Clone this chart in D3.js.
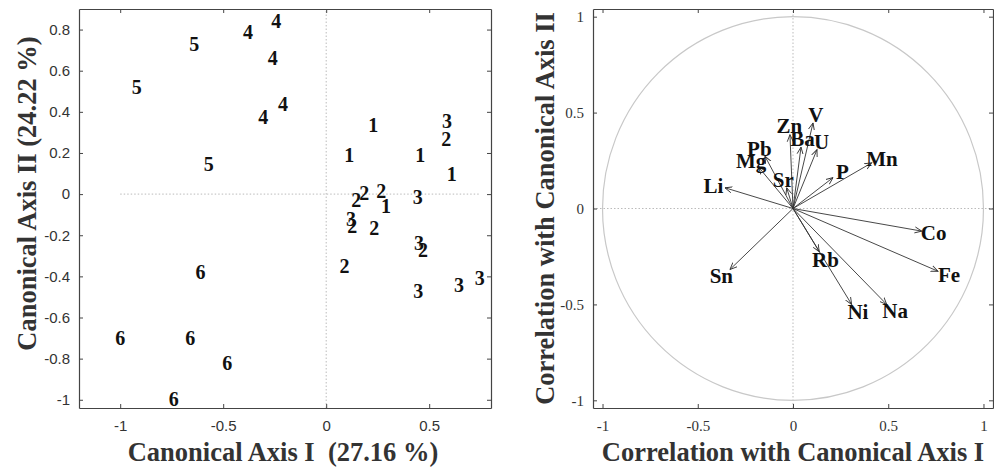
<!DOCTYPE html>
<html>
<head>
<meta charset="utf-8">
<script src="https://cdn.jsdelivr.net/npm/d3@7"></script>
<style>
  body { margin: 0; background: #fff; }
  svg { display: block; }
</style>
</head>
<body>
<div id="chart"></div>
<script>
// canonical scores (left panel)
var scoreX = [0.228, 0.112, 0.456, 0.61, 0.29,
  0.583, 0.185, 0.146, 0.267, 0.127, 0.233, 0.47, 0.089,
  0.587, 0.445, 0.12, 0.45, 0.447, 0.645, 0.745,
  -0.38, -0.243, -0.26, -0.21, -0.305,
  -0.64, -0.92, -0.57,
  -0.61, -1.0, -0.66, -0.48, -0.74];
var scoreY = [0.338, 0.19, 0.19, 0.097, -0.058,
  0.27, 0.005, -0.03, 0.015, -0.155, -0.165, -0.27, -0.348,
  0.357, -0.015, -0.12, -0.237, -0.47, -0.44, -0.41,
  0.79, 0.84, 0.66, 0.44, 0.377,
  0.73, 0.52, 0.145,
  -0.38, -0.70, -0.70, -0.82, -0.995];
var scoreGroup = ["1", "1", "1", "1", "1",
  "2", "2", "2", "2", "2", "2", "2", "2",
  "3", "3", "3", "3", "3", "3", "3",
  "4", "4", "4", "4", "4",
  "5", "5", "5",
  "6", "6", "6", "6", "6"];

// correlations with canonical axes (right panel)
var varNames = ["Li", "Sn", "Co", "Fe", "Ni", "Na", "Rb", "Mn", "P", "U", "Ba", "V", "Zn", "Pb", "Mg", "Sr"];
var varX = [-0.357, -0.331, 0.676, 0.761, 0.308, 0.492, 0.138, 0.413, 0.21, 0.126, 0.042, 0.105, -0.016, -0.147, -0.18, -0.033];
var varY = [0.108, -0.318, -0.118, -0.327, -0.5, -0.5, -0.225, 0.238, 0.161, 0.307, 0.32, 0.446, 0.385, 0.272, 0.215, 0.108];

var leftTicksX = [-1, -0.5, 0, 0.5];
var leftTicksY = [-1, -0.8, -0.6, -0.4, -0.2, 0, 0.2, 0.4, 0.6, 0.8];
var rightTicks = [-1, -0.5, 0, 0.5, 1];

var W = 994, H = 467;
var serif = "'Liberation Serif', 'Times New Roman', serif";
var sans = "'Liberation Sans', Arial, sans-serif";
var axisColor = "#444";

var svg = d3.select("#chart").append("svg")
  .attr("width", W).attr("height", H);

// draw a MATLAB-like boxed axis with inward ticks
function boxAxes(g, x, y, ticksX, ticksY, font, fmt) {
  var x0 = x.range()[0], x1 = x.range()[1];
  var y0 = y.range()[0], y1 = y.range()[1];
  var axB = d3.axisBottom(x).tickValues(ticksX).tickSizeInner(-4).tickSizeOuter(0).tickPadding(12).tickFormat(fmt);
  var axT = d3.axisTop(x).tickValues(ticksX).tickSizeInner(-4).tickSizeOuter(0).tickFormat("");
  var axL = d3.axisLeft(y).tickValues(ticksY).tickSizeInner(-4).tickSizeOuter(0).tickPadding(9).tickFormat(fmt);
  var axR = d3.axisRight(y).tickValues(ticksY).tickSizeInner(-4).tickSizeOuter(0).tickFormat("");
  var parts = [
    g.append("g").attr("transform", "translate(0," + y0 + ")").call(axB),
    g.append("g").attr("transform", "translate(0," + y1 + ")").call(axT),
    g.append("g").attr("transform", "translate(" + x0 + ",0)").call(axL),
    g.append("g").attr("transform", "translate(" + x1 + ",0)").call(axR)
  ];
  parts.forEach(function (p) {
    p.select(".domain").attr("stroke", axisColor).attr("stroke-width", 1.2);
    p.selectAll(".tick line").attr("stroke", axisColor);
    p.selectAll(".tick text").attr("fill", "#333").style("font-family", font).style("font-size", "15px");
  });
}

function fmtTick(d) { return d === 0 ? "0" : String(d); }

// ---------- left panel ----------
var xL = d3.scaleLinear().domain([-1.2, 0.8]).range([79, 491]);
var yL = d3.scaleLinear().domain([-1.04, 0.9]).range([408, 9]);
var gL = svg.append("g");

gL.append("line")
  .attr("x1", xL(d3.min(scoreX))).attr("x2", xL(d3.max(scoreX)))
  .attr("y1", yL(0)).attr("y2", yL(0))
  .attr("stroke", "#bbb").attr("stroke-dasharray", "1.5,2");
gL.append("line")
  .attr("x1", xL(0)).attr("x2", xL(0))
  .attr("y1", yL.range()[0]).attr("y2", yL.range()[1])
  .attr("stroke", "#bbb").attr("stroke-dasharray", "1.5,2");

boxAxes(gL, xL, yL, leftTicksX, leftTicksY, sans, fmtTick);

gL.selectAll(".score")
  .data(scoreGroup)
  .enter().append("text")
  .attr("class", "score")
  .attr("x", function (d, i) { return xL(scoreX[i]); })
  .attr("y", function (d, i) { return yL(scoreY[i]); })
  .attr("dy", "0.35em")
  .attr("text-anchor", "middle")
  .style("font-family", serif).style("font-weight", "bold").style("font-size", "20px")
  .attr("fill", "#111")
  .text(function (d) { return d; });

gL.append("text")
  .attr("x", (xL.range()[0] + xL.range()[1]) / 2 - 2).attr("y", 461)
  .attr("text-anchor", "middle")
  .style("font-family", serif).style("font-weight", "bold").style("font-size", "26.5px")
  .attr("fill", "#333")
  .text("Canonical Axis I\u00a0 (27.16 %)");

gL.append("text")
  .attr("transform", "translate(36," + ((yL.range()[0] + yL.range()[1]) / 2 - 15) + ") rotate(-90)")
  .attr("text-anchor", "middle")
  .style("font-family", serif).style("font-weight", "bold").style("font-size", "26.5px")
  .attr("fill", "#333")
  .text("Canonical Axis II (24.22 %)");

// ---------- right panel ----------
var xR = d3.scaleLinear().domain([-1.05, 1.05]).range([593, 993]);
var yR = d3.scaleLinear().domain([-1.04, 1.04]).range([408, 9]);
var gR = svg.append("g");

gR.append("line")
  .attr("x1", xR.range()[0]).attr("x2", xR.range()[1])
  .attr("y1", yR(0)).attr("y2", yR(0))
  .attr("stroke", "#bbb").attr("stroke-dasharray", "1.5,2");
gR.append("line")
  .attr("x1", xR(0)).attr("x2", xR(0))
  .attr("y1", yR.range()[0]).attr("y2", yR.range()[1])
  .attr("stroke", "#bbb").attr("stroke-dasharray", "1.5,2");

gR.append("ellipse")
  .attr("cx", xR(0)).attr("cy", yR(0))
  .attr("rx", xR(1) - xR(0)).attr("ry", yR(0) - yR(1))
  .attr("fill", "none").attr("stroke", "#c8c8c8").attr("stroke-width", 1.2);

boxAxes(gR, xR, yR, rightTicks, rightTicks, serif, fmtTick);

svg.append("defs").append("marker")
  .attr("id", "arrow")
  .attr("markerUnits", "userSpaceOnUse")
  .attr("markerWidth", 10).attr("markerHeight", 10)
  .attr("refX", 7).attr("refY", 4)
  .attr("orient", "auto")
  .append("path")
  .attr("d", "M0,1 L7,4 L0,7")
  .attr("fill", "none").attr("stroke", "#333").attr("stroke-width", 0.9);

gR.selectAll(".vec")
  .data(varNames)
  .enter().append("line")
  .attr("class", "vec")
  .attr("x1", xR(0)).attr("y1", yR(0))
  .attr("x2", function (d, i) { return xR(varX[i]); })
  .attr("y2", function (d, i) { return yR(varY[i]); })
  .attr("stroke", "#333").attr("stroke-width", 0.9)
  .attr("marker-end", "url(#arrow)");

gR.selectAll(".vlab")
  .data(varNames)
  .enter().append("text")
  .attr("class", "vlab")
  .each(function (d, i) {
    var dx = xR(varX[i]) - xR(0), dy = yR(varY[i]) - yR(0);
    var len = Math.sqrt(dx * dx + dy * dy);
    d3.select(this)
      .attr("x", xR(varX[i]) + dx / len * 12)
      .attr("y", yR(varY[i]) + dy / len * 9);
  })
  .attr("dy", "0.35em")
  .attr("text-anchor", "middle")
  .style("font-family", serif).style("font-weight", "bold").style("font-size", "21px")
  .attr("fill", "#111")
  .text(function (d) { return d; });

gR.append("text")
  .attr("x", xR(0)).attr("y", 461)
  .attr("text-anchor", "middle")
  .style("font-family", serif).style("font-weight", "bold").style("font-size", "26.5px")
  .attr("fill", "#333")
  .text("Correlation with Canonical Axis I");

gR.append("text")
  .attr("transform", "translate(554," + yR(0) + ") rotate(-90)")
  .attr("text-anchor", "middle")
  .style("font-family", serif).style("font-weight", "bold").style("font-size", "26.5px")
  .attr("fill", "#333")
  .text("Correlation with Canonical Axis II");
</script>
</body>
</html>
